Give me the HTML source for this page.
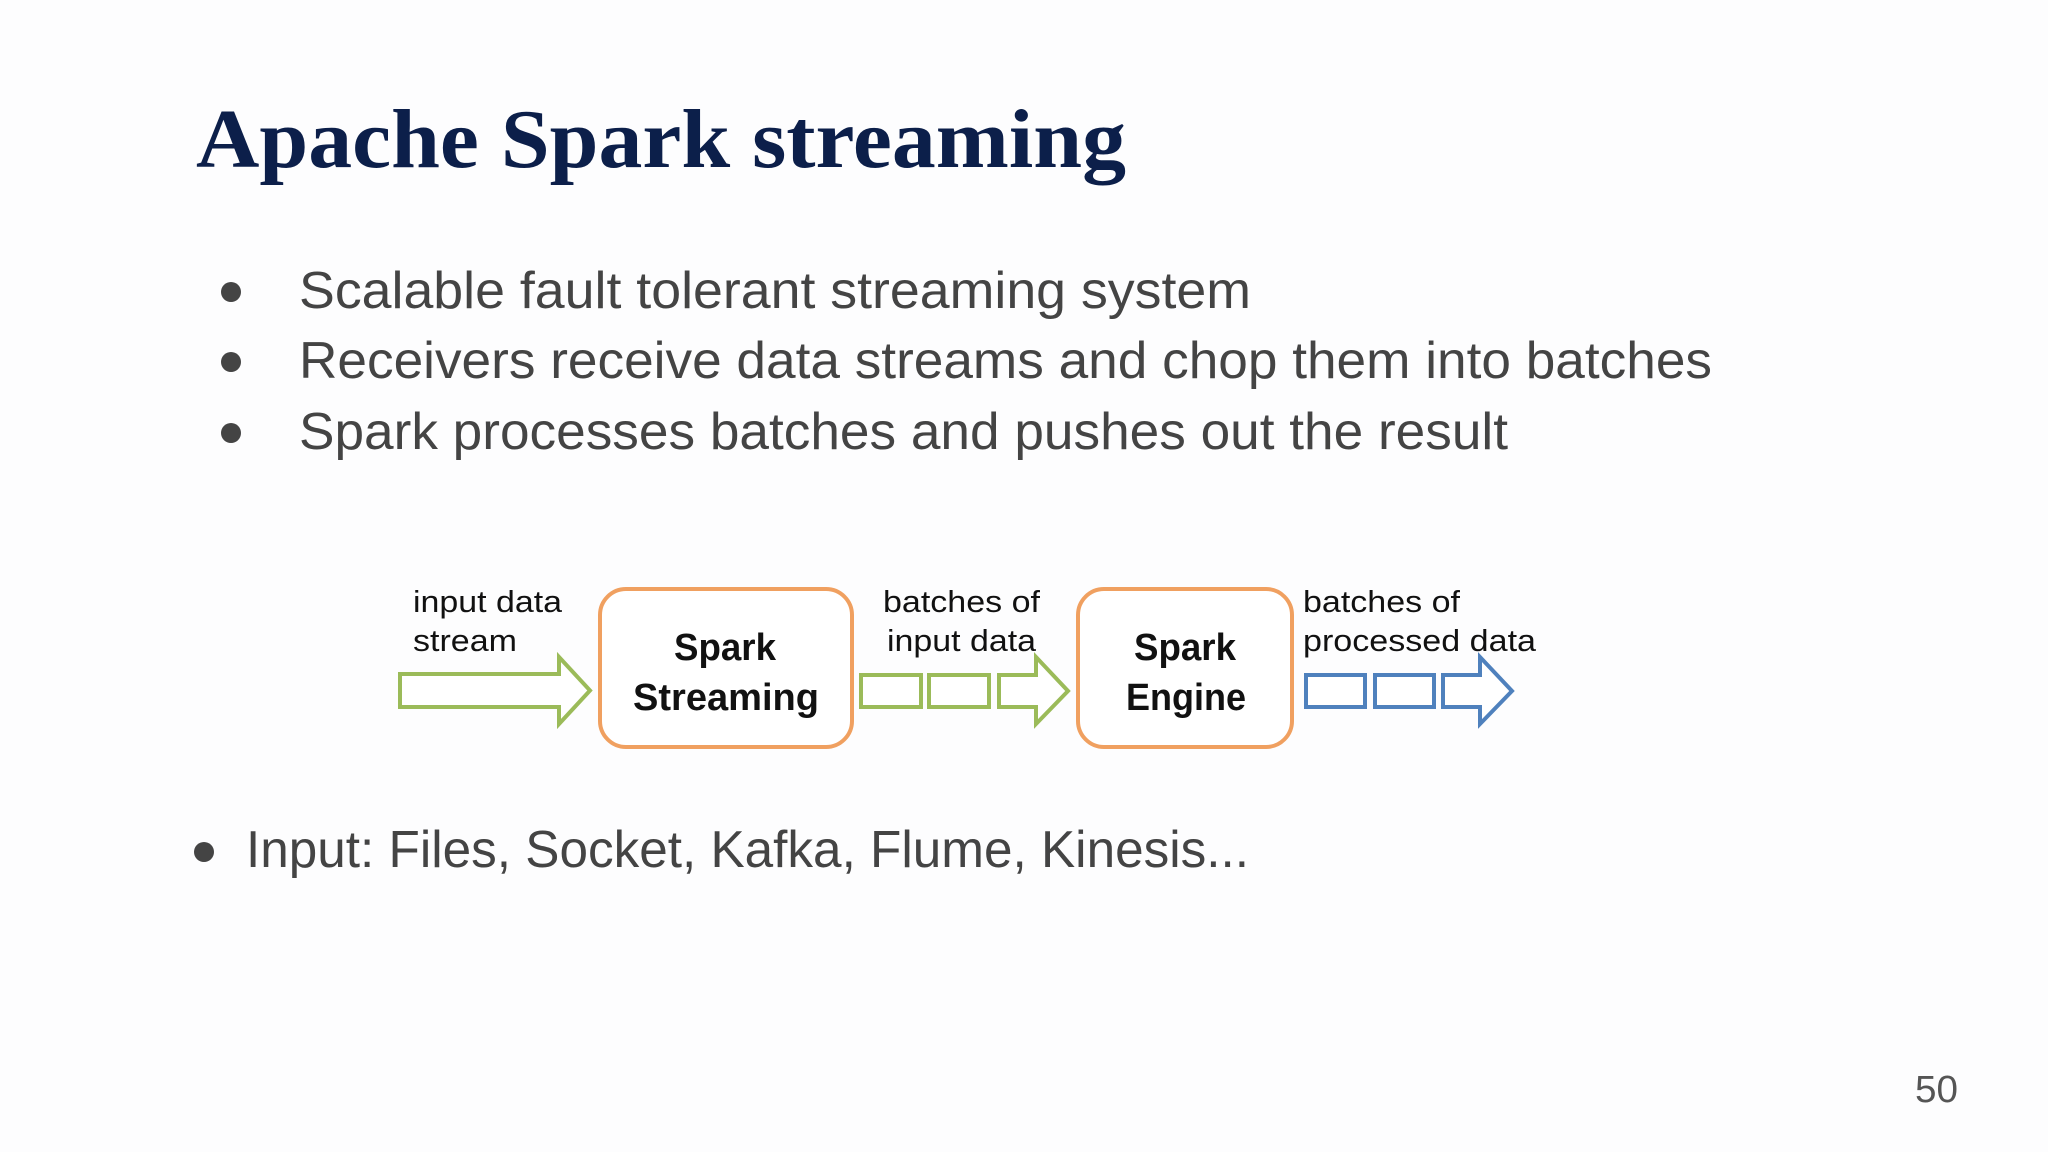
<!DOCTYPE html>
<html><head><meta charset="utf-8"><style>
html,body{margin:0;padding:0;background:#fff;}
svg{display:block;}
</style></head><body>
<svg width="2048" height="1152" viewBox="0 0 2048 1152" xmlns="http://www.w3.org/2000/svg">
<rect width="2048" height="1152" fill="#fdfdfe"/>
<text x="196" y="167" font-family="Liberation Serif, serif" font-weight="bold" font-size="84" fill="#0c1f4a" textLength="930" lengthAdjust="spacingAndGlyphs">Apache Spark streaming</text>
<g fill="#444" font-family="Liberation Sans, sans-serif" font-size="52">
<circle cx="231" cy="292" r="10"/>
<circle cx="231" cy="362" r="10"/>
<circle cx="231" cy="433" r="10"/>
<circle cx="204" cy="852" r="10"/>
<text x="299" y="308" textLength="952" lengthAdjust="spacingAndGlyphs">Scalable fault tolerant streaming system</text>
<text x="299" y="378" textLength="1413" lengthAdjust="spacingAndGlyphs">Receivers receive data streams and chop them into batches</text>
<text x="299" y="449" textLength="1209" lengthAdjust="spacingAndGlyphs">Spark processes batches and pushes out the result</text>
<text x="246" y="867" textLength="1003" lengthAdjust="spacingAndGlyphs">Input: Files, Socket, Kafka, Flume, Kinesis...</text>
</g>
<text x="1915" y="1102" font-family="Liberation Sans, sans-serif" font-size="38" fill="#555" textLength="43" lengthAdjust="spacingAndGlyphs">50</text>
<g font-family="Liberation Sans, sans-serif" font-size="31" fill="#111">
<text x="413" y="612" textLength="149" lengthAdjust="spacingAndGlyphs">input data</text>
<text x="413" y="651" textLength="104" lengthAdjust="spacingAndGlyphs">stream</text>
<text x="883" y="612" textLength="157" lengthAdjust="spacingAndGlyphs">batches of</text>
<text x="887" y="651" textLength="149" lengthAdjust="spacingAndGlyphs">input data</text>
<text x="1303" y="612" textLength="157" lengthAdjust="spacingAndGlyphs">batches of</text>
<text x="1303" y="651" textLength="233" lengthAdjust="spacingAndGlyphs">processed data</text>
</g>
<g fill="#fff" stroke="#9bbb59" stroke-width="4" stroke-linejoin="miter">
<path d="M400 674 H559 V657 L590 690.5 L559 724 V707 H400 Z"/>
<rect x="861" y="675" width="60" height="32"/>
<rect x="929" y="675" width="60" height="32"/>
<path d="M999 675 H1036 V657 L1068 691 L1036 724 V707 H999 Z"/>
</g>
<g fill="#fff" stroke="#4f81bd" stroke-width="4">
<rect x="1306" y="675" width="59" height="32"/>
<rect x="1375" y="675" width="59" height="32"/>
<path d="M1443 675 H1480 V657 L1512 691 L1480 724 V707 H1443 Z"/>
</g>
<g fill="#fff" stroke="#f0a060" stroke-width="4">
<rect x="600" y="589" width="252" height="158" rx="26"/>
<rect x="1078" y="589" width="214" height="158" rx="26"/>
</g>
<g font-family="Liberation Sans, sans-serif" font-weight="bold" font-size="38" fill="#111" text-anchor="middle">
<text x="725" y="660" textLength="102" lengthAdjust="spacingAndGlyphs">Spark</text>
<text x="726" y="710" textLength="186" lengthAdjust="spacingAndGlyphs">Streaming</text>
<text x="1185" y="660" textLength="102" lengthAdjust="spacingAndGlyphs">Spark</text>
<text x="1186" y="710" textLength="120" lengthAdjust="spacingAndGlyphs">Engine</text>
</g>
</svg>
</body></html>
